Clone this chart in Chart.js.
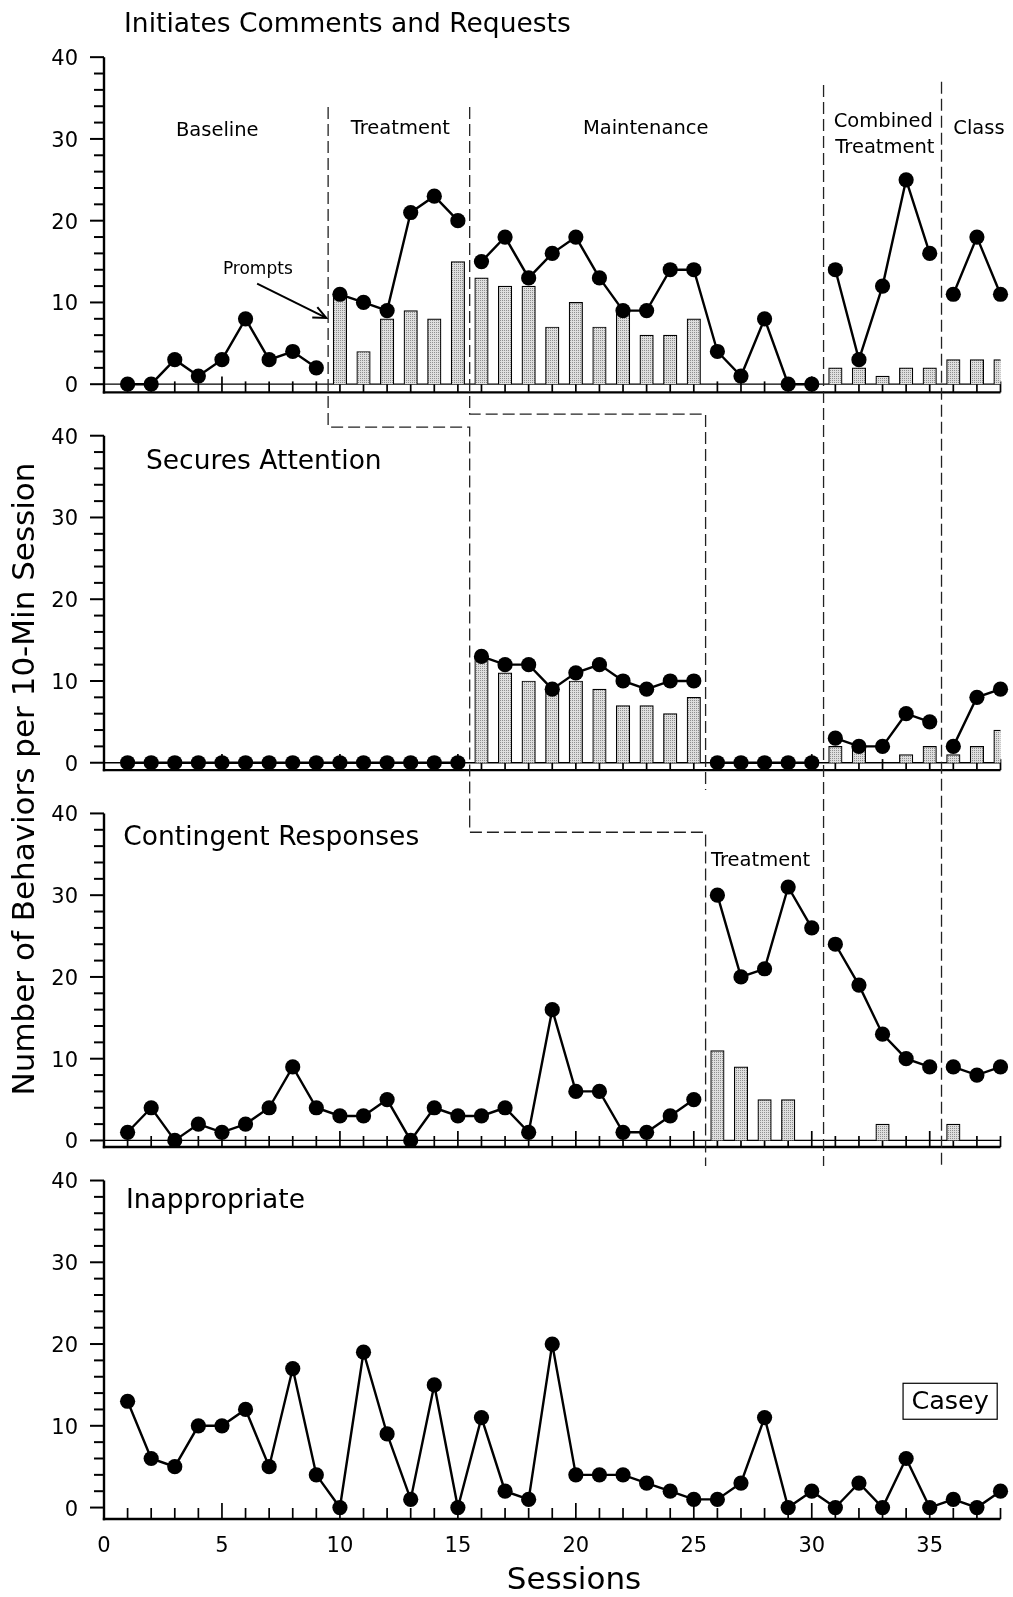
<!DOCTYPE html>
<html><head><meta charset="utf-8">
<script src="https://cdn.jsdelivr.net/npm/chart.js@4.4.1/dist/chart.umd.min.js"></script>
<style>html,body{margin:0;padding:0;background:#fff;overflow:hidden}canvas{display:block}</style>
</head><body>
<canvas id="c" width="1013" height="1597"></canvas>
<script>
// ---------------- data ----------------
const sessions = [1,2,3,4,5,6,7,8,9,10,11,12,13,14,15,16,17,18,19,20,21,22,23,24,25,26,27,28,29,30,31,32,33,34,35,36,37,38];
const initiates        = [0,0,3,1,3,8,3,4,2, 11,10,9,21,23,20, 15,18,13,16,18,13,9,9,14,14,4,1,8,0,0, 14,3,12,25,16, 11,18,11];
const initiatesPrompts = [null,null,null,null,null,null,null,null,null, 11,4,8,9,8,15, 13,12,12,7,10,7,9,6,6,8,null,null,null,null,null, 2,2,1,2,2, 3,3,3];
const secures          = [0,0,0,0,0,0,0,0,0,0,0,0,0,0,0, 13,12,12,9,11,12,10,9,10,10, 0,0,0,0,0, 3,2,2,6,5, 2,8,9];
const securesPrompts   = [null,null,null,null,null,null,null,null,null,null,null,null,null,null,null, 13,11,10,9,10,9,7,7,6,8, null,null,null,null,null, 2,2,null,1,2, 1,2,4];
const contingent       = [1,4,0,2,1,2,4,9,4,3,3,5,0,4,3,3,4,1,16,6,6,1,1,3,5, 30,20,21,31,26, 24,19,13,10,9, 9,8,9];
const contingentPrompts= [null,null,null,null,null,null,null,null,null,null,null,null,null,null,null,null,null,null,null,null,null,null,null,null,null, 11,9,5,5,null, null,null,2,null,null, 2,null,null];
const inappropriate    = [13,6,5,10,10,12,5,17,4,0,19,9,1,15,0,11,2,1,20,4,4,4,3,2,1,1,3,11,0,2,0,3,0,6,0,1,0,2];
const panelTitles = ['Initiates Comments and Requests','Secures Attention','Contingent Responses','Inappropriate'];
const xTickLabels = [0,5,10,15,20,25,30,35];
const yTickLabels = [0,10,20,30,40];
// phase changes that break the data path, per panel
const phaseBreaks = [[9.5,15.5,30.5,35.5],[15.5,25.5,30.5,35.5],[25.5,30.5,35.5],[]];

// ---------------- layout / style ----------------
const FONT = '"DejaVu Sans", "Liberation Sans", Arial, sans-serif';
const axisRanges = [[-3.5,42.1],[-3.4,42.8],[-2.8,42.8],[-1.4,42.1]];
const axisLineAt = [-1.0,-0.9,-0.8,-1.4];
const phaseLines = [
  [[9.5,0,33.9],[9.5,1,41.06],[15.5,1,41.06],[15.5,2,37.7],[25.5,2,37.7],[25.5,2,-3.13]],
  [[15.5,0,33.9],[15.5,1,42.65],[25.5,1,42.65],[25.5,1,-3.34]],
  [[30.5,0,36.6],[30.5,2,-3.13]],
  [[35.5,0,37.0],[35.5,2,-3.13]]
];
const titlePos = [[0.85,0,43.95],[1.78,1,36.75],[0.82,2,37.0],[0.93,3,37.45]];
const phaseLabels = [
  {t:'Baseline', x:4.8, p:0, y:31.0, a:'center'},
  {t:'Treatment', x:12.56, p:0, y:31.25, a:'center'},
  {t:'Maintenance', x:22.96, p:0, y:31.25, a:'center'},
  {t:'Combined', x:33.03, p:0, y:32.05, a:'center'},
  {t:'Treatment', x:33.1, p:0, y:28.85, a:'center'},
  {t:'Class', x:36.0, p:0, y:31.25, a:'left'},
  {t:'Treatment', x:27.83, p:2, y:34.15, a:'center'}
];

function makePattern(){
  const c = document.createElement('canvas'); c.width = 2; c.height = 2;
  const g = c.getContext('2d');
  g.fillStyle = '#dedede'; g.fillRect(0,0,2,2);
  g.fillStyle = '#8f8f8f'; g.fillRect(0,0,1,1);
  return g.createPattern(c,'repeat');
}
const barFill = makePattern();

function pts(vals){ return sessions.map((s,i)=>({x:s, y:vals[i]})); }
function barPts(vals){ return pts(vals).filter(p=>p.y!==null); }

function lineDS(vals, k){
  const br = phaseBreaks[k];
  return {
    type:'line', data:pts(vals), yAxisID:'y'+k, order:0, clip:false,
    borderColor:'#000', borderWidth:2.4, tension:0,
    pointRadius:7.6, pointBackgroundColor:'#000', pointBorderWidth:0, pointHoverRadius:7.6,
    segment:{ borderColor: c => br.some(b => c.p0.parsed.x < b && c.p1.parsed.x > b) ? 'rgba(0,0,0,0)' : '#000' }
  };
}
function barDS(vals, k){
  return {
    type:'bar', data:barPts(vals), yAxisID:'y'+k, order:1, grouped:false,
    backgroundColor:barFill, borderColor:'#000', borderWidth:1.2, barThickness:13.5
  };
}

function yScale(k){
  return {
    type:'linear', position:'left', stack:'panels', stackWeight: axisRanges[k][1]-axisRanges[k][0],
    weight: 4-k, min: axisRanges[k][0], max: axisRanges[k][1],
    afterBuildTicks: s => { s.ticks = yTickLabels.map(v=>({value:v})); },
    afterFit: s => { s.width = 104; },
    grid:{display:false, drawTicks:false}, border:{display:false},
    ticks:{font:{family:FONT, size:21}, color:'#000', padding:26, autoSkip:false, labelOffset:2.5}
  };
}

const decor = {
  id:'decor',
  beforeDatasetsDraw(chart){
    const ctx = chart.ctx, xs = chart.scales.x;
    const x0 = xs.getPixelForValue(0), x1 = xs.getPixelForValue(38);
    const line = (a,b,c,d)=>{ctx.beginPath();ctx.moveTo(a,b);ctx.lineTo(c,d);ctx.stroke();};
    ctx.save();
    ctx.strokeStyle = '#000';
    for (let k=0;k<4;k++){
      const ys = chart.scales['y'+k];
      const yA = ys.getPixelForValue(axisLineAt[k]);
      const yT = ys.getPixelForValue(40);
      ctx.lineWidth = 2.4;
      line(x0, yT, x0, yA+1.2);
      line(x0-1.2, yA, x1, yA);
      ctx.lineWidth = 2;
      for (let v=0; v<=40; v+=2){
        const y = ys.getPixelForValue(v);
        line(x0 - (v%10===0 ? 14 : 10), y, x0, y);
      }
      ctx.lineWidth = 1.7;
      for (let s=1; s<=38; s++){
        const x = xs.getPixelForValue(s);
        line(x, yA, x, yA - (s%5===0 ? 16 : 11));
      }
      if (k<3){
        ctx.lineWidth = 1.3;
        const y0 = ys.getPixelForValue(0);
        line(x0, y0, x1, y0);
      }
    }
    ctx.setLineDash([12,5]);
    ctx.lineWidth = 1.3;
    ctx.strokeStyle = '#222';
    for (const pl of phaseLines){
      ctx.beginPath();
      pl.forEach((p,i)=>{
        const px = xs.getPixelForValue(p[0]), py = chart.scales['y'+p[1]].getPixelForValue(p[2]);
        if (i===0) ctx.moveTo(px,py); else ctx.lineTo(px,py);
      });
      ctx.stroke();
    }
    ctx.restore();
  },
  afterDatasetsDraw(chart){
    const ctx = chart.ctx, xs = chart.scales.x;
    const Y = (p,v)=>chart.scales['y'+p].getPixelForValue(v);
    ctx.save();
    ctx.fillStyle = '#000';
    ctx.textBaseline = 'middle';
    // panel titles
    ctx.font = '26.5px ' + FONT; ctx.textAlign = 'left';
    panelTitles.forEach((t,i)=>{ const p = titlePos[i]; ctx.fillText(t, xs.getPixelForValue(p[0]), Y(p[1],p[2])); });
    // phase labels
    ctx.font = '19.5px ' + FONT;
    for (const l of phaseLabels){ ctx.textAlign = l.a; ctx.fillText(l.t, xs.getPixelForValue(l.x), Y(l.p,l.y)); }
    // prompts annotation
    ctx.font = '17px ' + FONT; ctx.textAlign = 'center';
    ctx.fillText('Prompts', xs.getPixelForValue(6.52), Y(0,14.05));
    const ax0 = xs.getPixelForValue(6.49), ay0 = Y(0,12.3), ax1 = xs.getPixelForValue(9.42), ay1 = Y(0,8.1);
    ctx.strokeStyle = '#000'; ctx.lineWidth = 2;
    ctx.beginPath(); ctx.moveTo(ax0,ay0); ctx.lineTo(ax1,ay1); ctx.stroke();
    const ang = Math.atan2(ay1-ay0, ax1-ax0);
    ctx.beginPath();
    ctx.moveTo(ax1 - 14*Math.cos(ang-0.42), ay1 - 14*Math.sin(ang-0.42));
    ctx.lineTo(ax1, ay1);
    ctx.lineTo(ax1 - 14*Math.cos(ang+0.42), ay1 - 14*Math.sin(ang+0.42));
    ctx.stroke();
    // Casey box
    const bx0 = xs.getPixelForValue(33.87), bx1 = xs.getPixelForValue(37.86), by0 = Y(3,15.2), by1 = Y(3,10.8);
    ctx.lineWidth = 1.2;
    ctx.strokeRect(bx0, by0, bx1-bx0, by1-by0);
    ctx.font = '25.5px ' + FONT; ctx.textAlign = 'center';
    ctx.fillText('Casey', (bx0+bx1)/2, (by0+by1)/2 + 1.5);
    // axis titles
    ctx.font = '31px ' + FONT; ctx.textAlign = 'center';
    ctx.fillText('Sessions', 574, 1581);
    ctx.translate(26, 779); ctx.rotate(-Math.PI/2);
    ctx.fillText('Number of Behaviors per 10-Min Session', 0, 0);
    ctx.restore();
  }
};

new Chart(document.getElementById('c'), {
  type:'line',
  data:{ datasets:[
    lineDS(initiates,0), barDS(initiatesPrompts,0),
    lineDS(secures,1), barDS(securesPrompts,1),
    lineDS(contingent,2), barDS(contingentPrompts,2),
    lineDS(inappropriate,3)
  ]},
  options:{
    responsive:false, animation:false, devicePixelRatio:1,
    layout:{padding:{top:40,right:12.5,bottom:0,left:0}},
    plugins:{legend:{display:false}, tooltip:{enabled:false}, title:{display:false}},
    scales:{
      x:{type:'linear', position:'bottom', min:0, max:38, offset:false,
         afterBuildTicks: s => { s.ticks = xTickLabels.map(v=>({value:v})); },
         afterFit: s => { s.height = 78; },
         grid:{display:false, drawTicks:false, offset:false}, border:{display:false},
         ticks:{font:{family:FONT, size:21}, color:'#000', padding:15, maxRotation:0, autoSkip:false}},
      y0:yScale(0), y1:yScale(1), y2:yScale(2), y3:yScale(3)
    }
  },
  plugins:[decor]
});
</script>
</body></html>
